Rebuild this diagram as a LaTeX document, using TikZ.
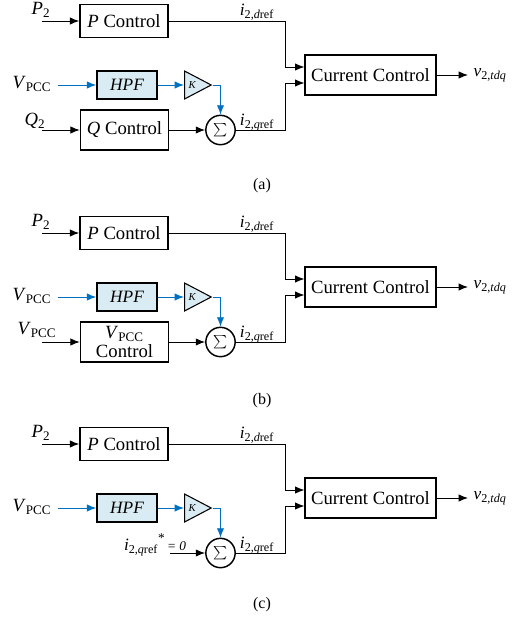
\documentclass[tikz,border=0pt]{standalone}
\usepackage{fontspec}
\setmainfont{Liberation Serif}
\usetikzlibrary{shapes.geometric,arrows,arrows.meta,positioning}
\definecolor{hpfblue}{RGB}{218,236,243}
\definecolor{linkblue}{RGB}{0,112,192}

\begin{document}
\begin{tikzpicture}[x=0.75pt,y=-0.75pt,
      block/.style={rectangle, draw=black, line width=1.1pt, minimum width=66pt, minimum height=25pt, inner sep=1pt, font=\fontsize{14}{13}\selectfont},
      hpfbox/.style={block, fill=hpfblue, minimum width=45pt, minimum height=21pt, font=\fontsize{13}{13}\selectfont\itshape},
      gain/.style={isosceles triangle, isosceles triangle stretches, draw=black, fill=hpfblue, line width=0.8pt, minimum width=21pt, minimum height=20pt, inner sep=0pt, font=\fontsize{8}{8}\selectfont\itshape},
      summ/.style={circle, draw=black, line width=1.1pt, minimum size=22pt, inner sep=0pt},
      lbl/.style={inner sep=0pt, font=\fontsize{14}{14}\selectfont},
      pfeil/.style={-{Latex[length=7pt,width=5.5pt]}, line width=0.7pt},
      bpfeil/.style={pfeil, draw=linkblue, color=linkblue}]
\useasboundingbox (0,0) rectangle (517,618);

% parts shared by (a), (b) and (c)
\foreach \n/\dy in {1/0,2/212,3/423} {
\begin{scope}[shift={(0,\dy)}]
\node[block] (pc\n) at (124,21) {\textit{P} Control};
\node[block,minimum width=98pt,minimum height=30pt] (cc\n) at (370.5,75) {Current Control};
\node[hpfbox] (hpf\n) at (127,85) {HPF};
\node[gain,anchor=west] (k\n) at (184,85) {K};
\node[summ] (sum\n) at (220.5,130) {\fontsize{17}{17}\selectfont$\sum$};
\node[lbl] (p2l\n) at (41,10) {\textit{P}\textsubscript{2}};
\node[lbl] (vl\n) at (32,84) {\textit{V}\textsubscript{PCC}};
\node[lbl,font=\fontsize{13}{13}\selectfont] (idl\n) at (257,12) {\textit{i}\textsubscript{2,\textit{d}ref}};
\node[lbl,font=\fontsize{13}{13}\selectfont] (iql\n) at (257,123) {\textit{i}\textsubscript{2,\textit{q}ref}};
\coordinate (p2in\n) at (42,21);
\coordinate (vin\n) at (58,85);
\coordinate (jd\n) at (285,21);
\coordinate (jq\n) at (285,130);
\coordinate (vout\n) at (468,75);
\node[lbl,right=4pt of vout\n,font=\fontsize{13}{13}\selectfont] (vo\n) {\textit{v}\textsubscript{2,\textit{tdq}}};
\draw[pfeil] (p2in\n) -- (pc\n);
\draw[bpfeil] (vin\n) -- (hpf\n);
\draw[bpfeil] (hpf\n) -- (k\n);
\draw[bpfeil] (k\n.apex) -| (sum\n);
\draw[pfeil] (pc\n) -- (jd\n) |- ([yshift=6pt]cc\n.west);
\draw[pfeil] (sum\n) -- (jq\n) |- ([yshift=-6pt]cc\n.west);
\draw[pfeil] (cc\n) -- (vout\n);
\end{scope}
}

% (a)
\node[block,minimum height=30pt] (qc1) at (124.5,130) {\textit{Q} Control};
\node[lbl] (q2l1) at (35,121) {\textit{Q}\textsubscript{2}};
\coordinate (qin1) at (42,130);
\draw[pfeil] (qin1) -- (qc1);
\draw[pfeil] (qc1) -- (sum1);
\node[font=\fontsize{12}{12}\selectfont] (cap1) at (262,186) {(a)};

% (b)
\node[block,minimum height=30pt,align=center,font=\fontsize{14}{14}\selectfont] (qc2) at (124.5,342) {\textit{V}\textsubscript{PCC}\\Control};
\node[lbl] (q2l2) at (37,330) {\textit{V}\textsubscript{PCC}};
\coordinate (qin2) at (42,342);
\draw[pfeil] (qin2) -- (qc2);
\draw[pfeil] (qc2) -- (sum2);
\node[font=\fontsize{12}{12}\selectfont] (cap2) at (262,401) {(b)};

% (c)
\node[lbl,font=\fontsize{13}{13}\selectfont] (q2l3) at (155,545) {\textit{i}\textsubscript{2,\textit{q}ref}\raisebox{6pt}{\fontsize{10}{10}\selectfont*}{\fontsize{10}{10}\selectfont\textit{\,= 0}}};
\coordinate (qin3) at (170,553);
\draw[pfeil] (qin3) -- (sum3);
\node[font=\fontsize{12}{12}\selectfont] (cap3) at (262,605) {(c)};

\end{tikzpicture}
\end{document}
